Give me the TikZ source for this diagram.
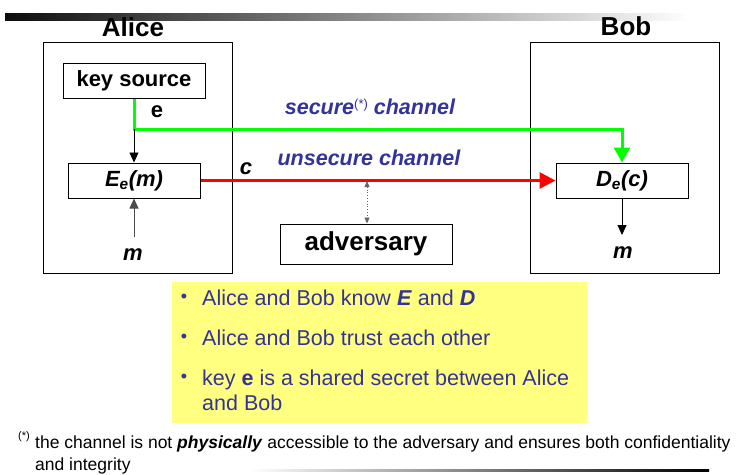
\documentclass[tikz,border=0pt]{standalone}
\usepackage{fontspec}
\setmainfont{Liberation Sans}
\usetikzlibrary{arrows.meta,positioning}
\definecolor{slideblue}{RGB}{51,51,153}
\definecolor{noteyellow}{RGB}{255,255,128}
\definecolor{keygreen}{RGB}{0,255,0}
\definecolor{chanred}{RGB}{255,0,0}
\begin{document}
\begin{tikzpicture}[x=1pt, y=-1pt,
  party/.style={draw, line width=1pt, minimum width=189pt, minimum height=231pt, inner sep=0pt},
  unit/.style={draw, line width=1pt, inner sep=0pt, minimum height=35pt, font=\fontsize{22}{26}\selectfont\bfseries},
  tag/.style={inner sep=0pt, font=\fontsize{22}{26}\selectfont\bfseries\itshape},
  title/.style={inner sep=0pt, font=\fontsize{26}{30}\selectfont\bfseries},
  chan/.style={inner sep=0pt, text=slideblue, font=\fontsize{21.5}{25}\selectfont\bfseries\itshape},
  point/.style={inner sep=0pt, anchor=west, text=slideblue, align=left, font=\fontsize{21.5}{25}\selectfont},
  thinarrow/.style={-{Triangle[length=10pt,width=9pt]}, line width=0.8pt},
  keyline/.style={keygreen, line width=3pt, -{Triangle[length=15pt,width=16pt]}},
  cipherline/.style={chanred, line width=3pt, -{Triangle[length=16pt,width=16pt]}},
  tapline/.style={black!60, dotted, line width=0.8pt, {Triangle[length=6pt,width=5pt]}-{Triangle[length=6pt,width=5pt]}}]
  \useasboundingbox (0,0) rectangle (751,474);
  % Slide bars.
  \shade[left color=black!95, right color=white] (5,13) rectangle (690,20);
  \shade[left color=white, right color=black] (250,469.5) rectangle (709,471.5);
  % The two parties.
  \node[party] (alice) at (137.5,157.5) {};
  \node[party] (bob)   at (625,157.5) {};
  \node[title] (alicename) at (133,27) {Alice};
  \node[title] (bobname)   at (626,26) {Bob};
  % Boxes.
  \node[unit, minimum width=142pt] (keysrc) at (134,80.5) {key source};
  \node[unit, minimum width=132pt, font=\fontsize{22}{26}\selectfont\bfseries\itshape] (enc) at (134,180.5) {E\textsubscript{e}(m)};
  \node[unit, minimum width=132pt, font=\fontsize{22}{26}\selectfont\bfseries\itshape] (dec) at (622,180.5) {D\textsubscript{e}(c)};
  \node[unit, minimum width=172pt, minimum height=40pt, font=\fontsize{26}{30}\selectfont\bfseries] (adv) at (366,244) {adversary};
  % Connectors.
  \coordinate (split) at (134,129);
  \coordinate (msrc) at (134,237);
  \coordinate (mdst) at (622,235);
  \coordinate (tap) at (367,181);
  \draw[keyline] (keysrc.south) -- (split) -| (dec.north);
  \draw[thinarrow] (split) -- (enc.north);
  \draw[thinarrow, black!70] (msrc) -- (enc.south);
  \draw[thinarrow] (dec.south) -- (mdst);
  \draw[cipherline] (enc.east) -- (dec.west);
  \draw[tapline] (tap) -- (tap |- adv.north);
  % Labels.
  \node[tag, font=\fontsize{22}{26}\selectfont\bfseries] (elabel) at (157,112) {e};
  \node[tag] (clabel) at (246,169) {c};
  \node[tag] (mA) at (133,255) {m};
  \node[tag] (mB) at (623,253) {m};
  \node[chan] (secure) at (370,107) {secure\raisebox{0.3em}{\mdseries\upshape\fontsize{13}{13}\selectfont(*)} channel};
  \node[chan] (unsecure) at (369,158) {unsecure channel};
  % Assumptions.
  \node[fill=noteyellow, minimum width=415pt, minimum height=141pt, inner sep=0pt] (facts) at (379.5,352.5) {};
  \node[point] (item1) at (202,298) {Alice and Bob know \textbf{\textit{E}} and \textbf{\textit{D}}};
  \node[point] (item2) at (202,338) {Alice and Bob trust each other};
  \node[point] (item3) at (202,390.5) {key \textbf{e} is a shared secret between Alice\\and Bob};
  \foreach \y/\n in {298/1, 338/2, 378/3}
    \node[inner sep=0pt, text=slideblue, font=\fontsize{18}{18}\selectfont] (dot\n) at (184,\y) {\textbullet};
  % Footnote.
  \node[inner sep=0pt, font=\fontsize{11}{11}\selectfont] (fnmark) at (24,437) {(*)};
  \node[inner sep=0pt, anchor=north west, align=left, font=\fontsize{17.5}{22}\selectfont] (fnote) at (35,435.5)
    {the channel is not \textbf{\textit{physically}} accessible to the adversary and ensures both confidentiality\\and integrity};
\end{tikzpicture}
\end{document}
